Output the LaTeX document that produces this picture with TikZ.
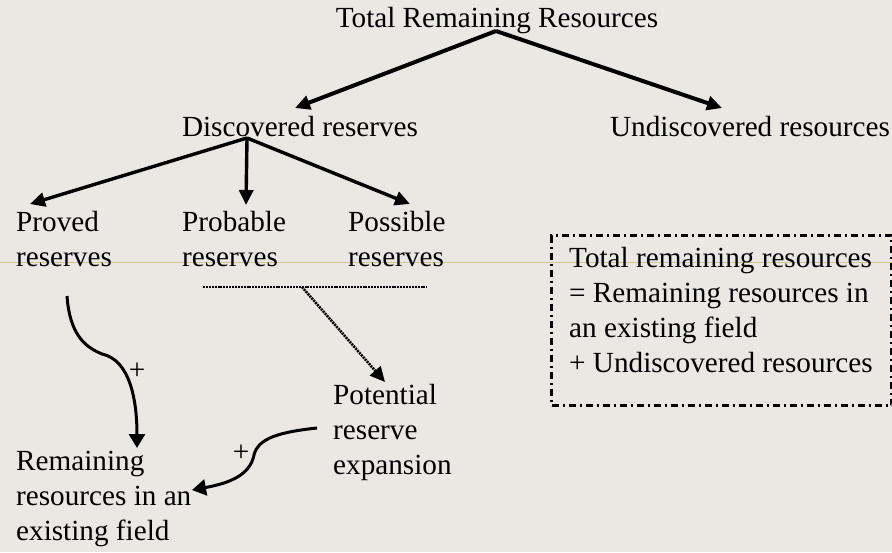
\documentclass[tikz,border=0pt]{standalone}
\usepackage{fontspec}
\setmainfont{Liberation Serif}
\usetikzlibrary{arrows.meta,calc}
\definecolor{bg}{RGB}{235,231,227}
\definecolor{guide}{RGB}{214,196,140}
\begin{document}
\begin{tikzpicture}[x=1pt,y=-1pt,
  lbl/.style={inner sep=0pt, font=\fontsize{29.2}{34.8}\selectfont, text height=20pt, text depth=6pt, anchor=base},
  mlbl/.style={inner sep=0pt, font=\fontsize{29.2}{34.8}\selectfont, align=left, anchor=base west},
  bigarrow/.style={line width=4pt, -{Triangle[length=15pt,width=14pt]}},
  midarrow/.style={line width=3.4pt, -{Triangle[length=15pt,width=14pt]}},
  curvearrow/.style={line width=3pt, -{Triangle[length=14pt,width=16pt]}},
  dotline/.style={line width=2.6pt, dash pattern=on 2pt off 0.9pt},
  dotarrow/.style={dotline, -{Triangle[length=15pt,width=14pt]}},
  framebox/.style={draw, line width=3pt, dash pattern=on 7pt off 4pt on 2pt off 4pt, inner sep=0pt, anchor=north west},
  plus/.style={inner sep=0pt, font=\fontsize{29.2}{34.8}\selectfont}
]
\fill[bg] (0,0) rectangle (892,552);
\useasboundingbox (0,0) rectangle (892,552);
\draw[guide, line width=0.8pt] (0,262) -- (892,262);

\node[lbl] (total) at (497,27) {Total Remaining Resources};
\node[lbl] (disc) at (300,136) {Discovered reserves};
\node[lbl] (undisc) at (750,136) {Undiscovered resources};
\node[mlbl] (proved) at (16,266) {Proved\\reserves};
\node[mlbl] (probable) at (182,266) {Probable\\reserves};
\node[mlbl] (possible) at (348,266) {Possible\\reserves};
\node[mlbl] (potential) at (333,474) {Potential\\reserve\\expansion};
\node[mlbl] (remaining) at (16,540) {Remaining\\resources in an\\existing field};
\node[framebox, minimum width=340pt, minimum height=170pt] (box) at (550,234) {};
\node[mlbl] (formula) at (569,372) {Total remaining resources\\= Remaining resources in\\an existing field\\+ Undiscovered resources};

\coordinate (apex) at ($(disc.base)+(-53,2)$);
\coordinate (dl) at ($(probable.base west)+(21,21)$);
\coordinate (dr) at ($(possible.base west)+(79,21)$);
\coordinate (dm) at ($(probable.base west)+(120,21)$);

\draw[bigarrow] ($(total.base)+(-1,4)$) -- ($(disc.base)+(-5,-28)$);
\draw[bigarrow] ($(total.base)+(-1,4)$) -- ($(undisc.base)+(-28,-28)$);

\draw[midarrow] (apex) -- ($(proved.base west)+(14,-62)$);
\draw[midarrow] (apex) -- ($(probable.base west)+(64,-61)$);
\draw[midarrow] (apex) -- ($(possible.base west)+(62,-62)$);

\draw[dotline] (dl) -- (dr);
\draw[dotarrow] (dm) -- ($(potential.base west)+(52,-92)$);

\draw[curvearrow] ($(proved.base west)+(51,30)$) .. controls ++(3,42) and ++(-14,-6) .. (102,354)
  .. controls ++(28,6) and ++(0,-48) .. ($(remaining.base west)+(121,-92)$);
\node[plus] (p1) at (137,371) {+};

\draw[curvearrow] ($(potential.base west)+(-16,-46)$) .. controls ++(-37,4) and ++(4,-17) .. (254,455)
  .. controls ++(-4,20) and ++(38,-7) .. ($(remaining.base west)+(176,-50)$);
\node[plus] (p2) at (241,453) {+};
\end{tikzpicture}
\end{document}
